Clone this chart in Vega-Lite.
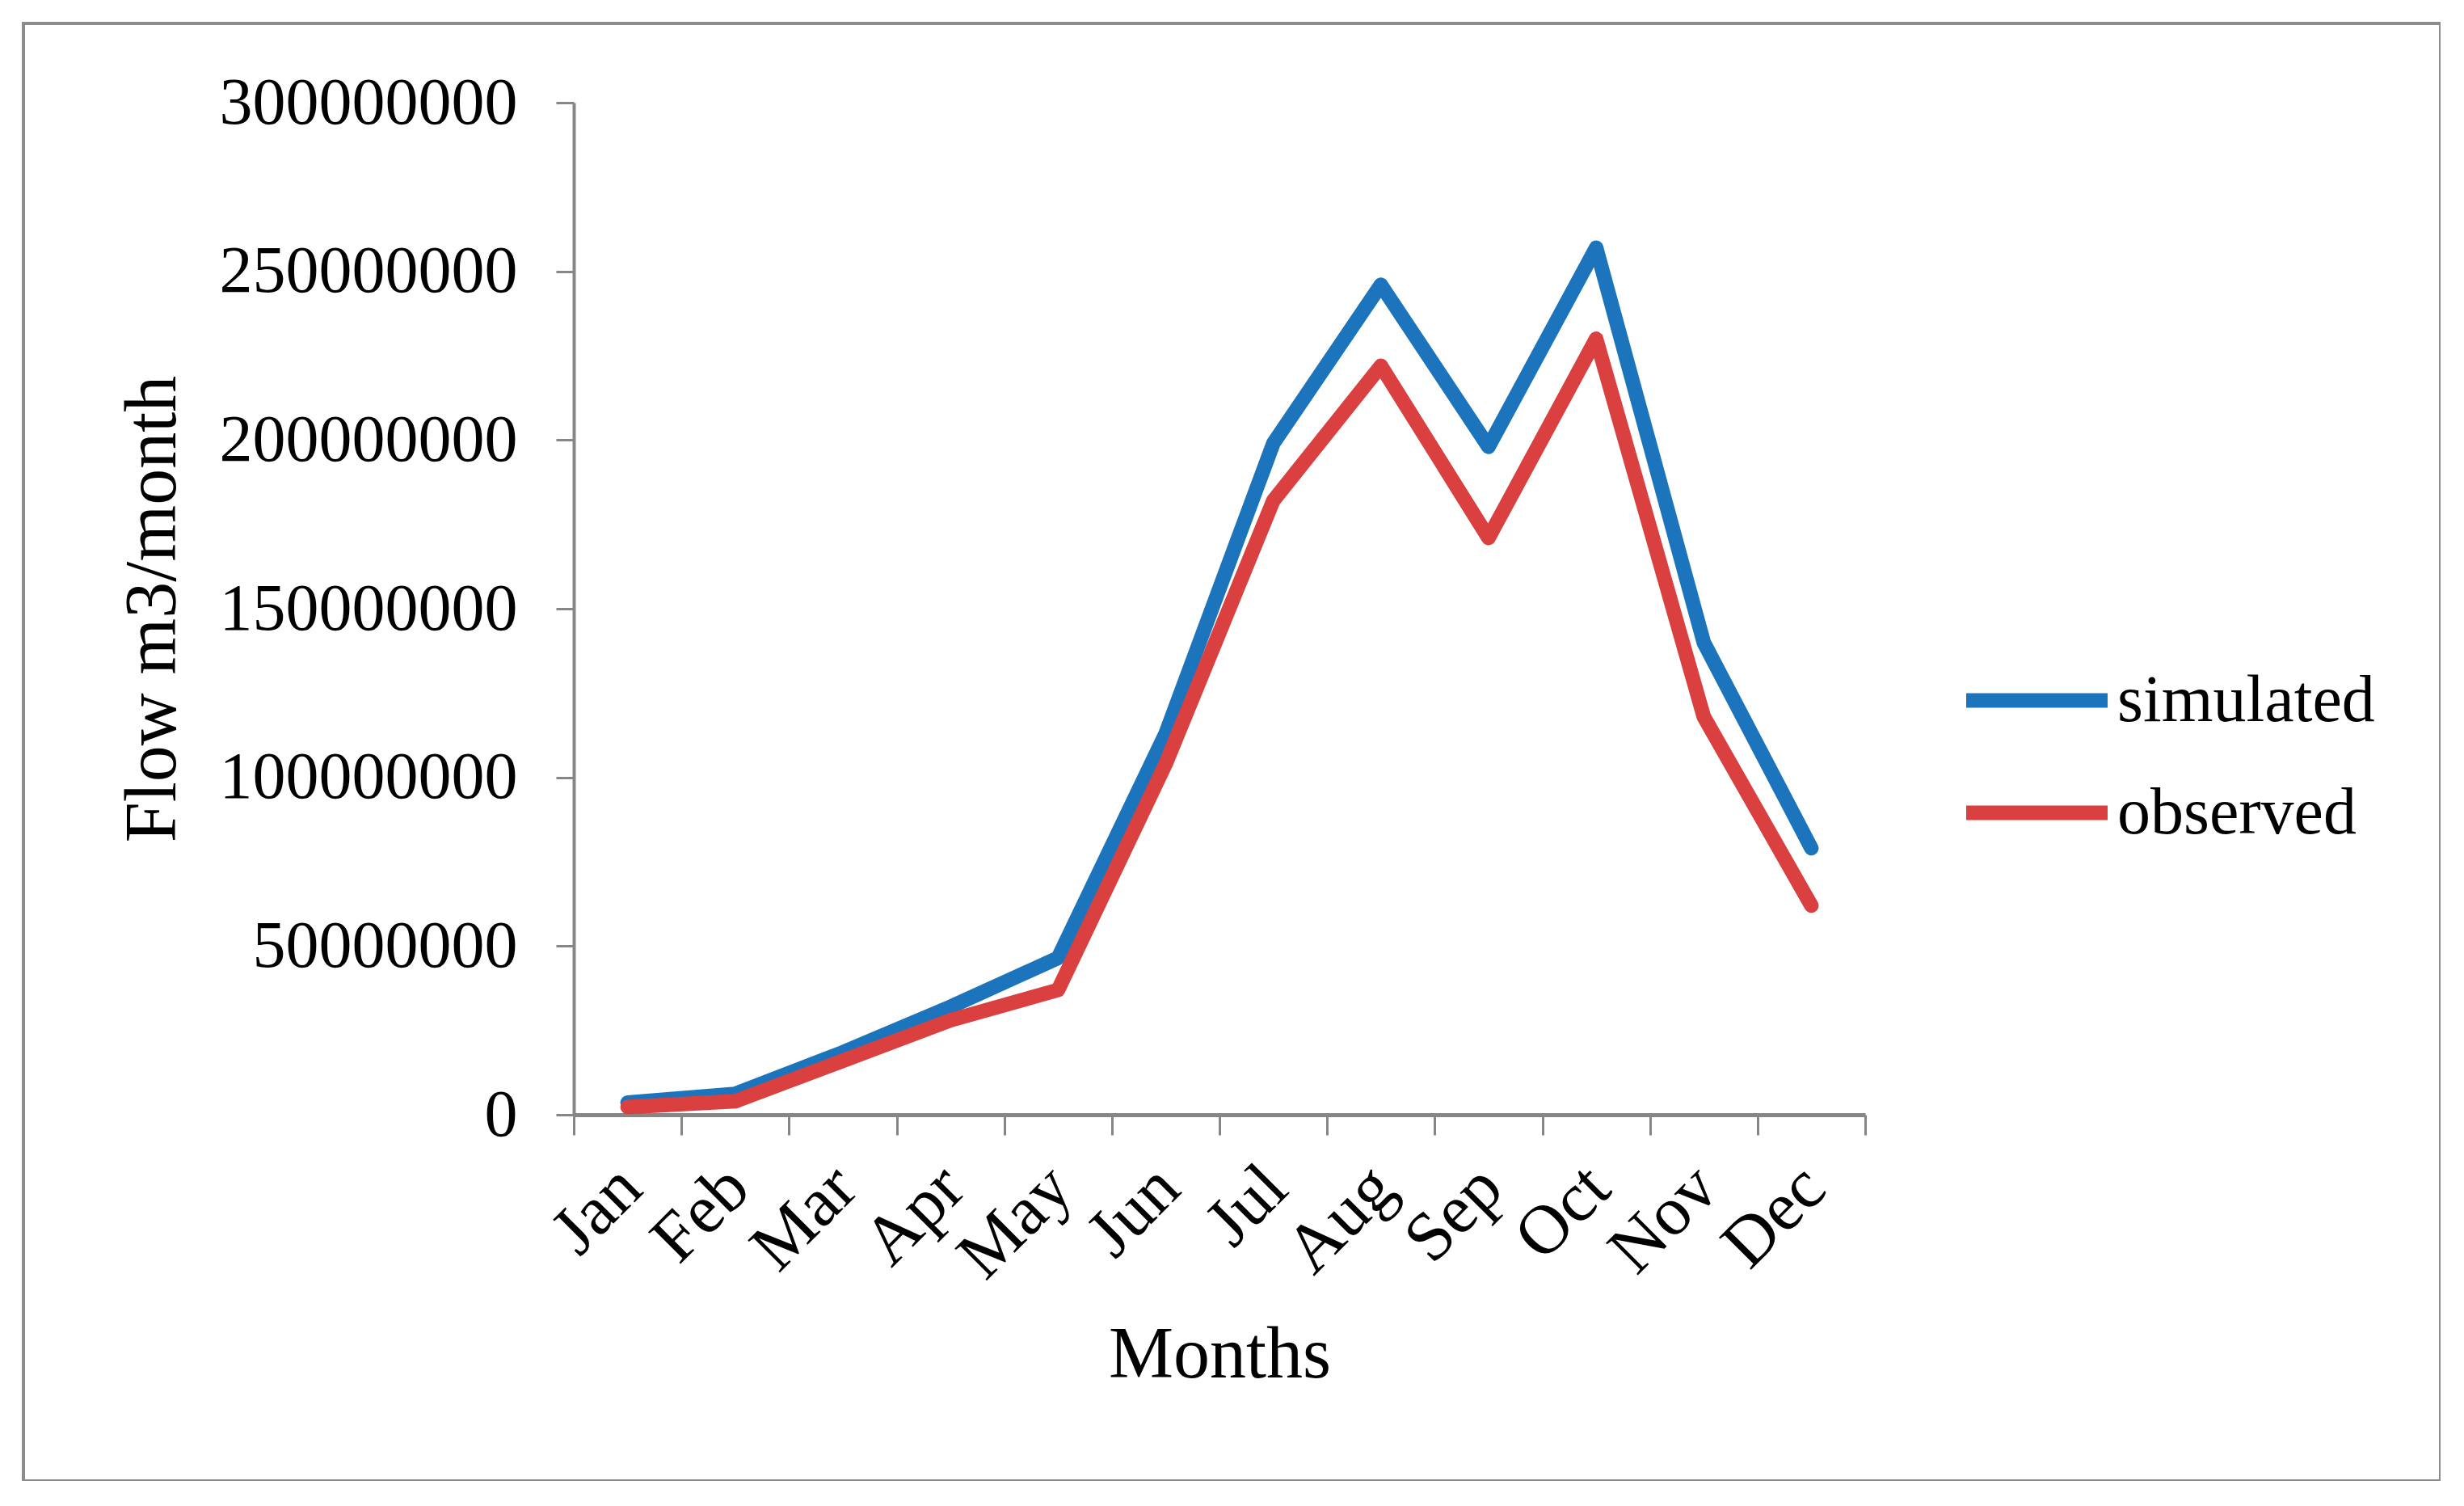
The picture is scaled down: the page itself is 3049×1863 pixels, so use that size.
{
  "$schema": "https://vega.github.io/schema/vega-lite/v6.json",
  "autosize": {"type": "none"},
  "padding": {"left": 29, "top": 29, "right": 0, "bottom": 0},
  "width": 2991,
  "height": 1803,
  "background": "white",
  "config": {
    "view": {"stroke": "#8c8c8c", "strokeWidth": 4},
    "font": "Liberation Serif"
  },
  "data": {
    "values": [
      {"month": "Jan", "series": "simulated", "flow": 3600000},
      {"month": "Feb", "series": "simulated", "flow": 6200000},
      {"month": "Mar", "series": "simulated", "flow": 18500000},
      {"month": "Apr", "series": "simulated", "flow": 32000000},
      {"month": "May", "series": "simulated", "flow": 46500000},
      {"month": "Jun", "series": "simulated", "flow": 113000000},
      {"month": "Jul", "series": "simulated", "flow": 199000000},
      {"month": "Aug", "series": "simulated", "flow": 246000000},
      {"month": "Sep", "series": "simulated", "flow": 198000000},
      {"month": "Oct", "series": "simulated", "flow": 257000000},
      {"month": "Nov", "series": "simulated", "flow": 140000000},
      {"month": "Dec", "series": "simulated", "flow": 79000000},
      {"month": "Jan", "series": "observed", "flow": 2300000},
      {"month": "Feb", "series": "observed", "flow": 4000000},
      {"month": "Mar", "series": "observed", "flow": 16000000},
      {"month": "Apr", "series": "observed", "flow": 28000000},
      {"month": "May", "series": "observed", "flow": 37000000},
      {"month": "Jun", "series": "observed", "flow": 104000000},
      {"month": "Jul", "series": "observed", "flow": 182000000},
      {"month": "Aug", "series": "observed", "flow": 222000000},
      {"month": "Sep", "series": "observed", "flow": 171000000},
      {"month": "Oct", "series": "observed", "flow": 230000000},
      {"month": "Nov", "series": "observed", "flow": 118000000},
      {"month": "Dec", "series": "observed", "flow": 62000000}
    ]
  },
  "mark": {"type": "line", "strokeWidth": 18, "strokeCap": "round", "strokeJoin": "round"},
  "encoding": {
    "x": {
      "field": "month",
      "type": "nominal",
      "sort": ["Jan", "Feb", "Mar", "Apr", "May", "Jun", "Jul", "Aug", "Sep", "Oct", "Nov", "Dec"],
      "scale": {"range": [681, 2279], "paddingInner": 0, "paddingOuter": 0},
      "axis": {
        "title": "Months",
        "offset": -453,
        "tickBand": "extent",
        "domainColor": "#868686",
        "domainWidth": 5,
        "tickColor": "#868686",
        "tickWidth": 3,
        "tickSize": 25,
        "labelAngle": -45,
        "labelFont": "Liberation Serif",
        "labelFontSize": 86,
        "labelColor": "black",
        "labelPadding": 22,
        "labelOffset": -27,
        "labelLimit": 0,
        "titleFont": "Liberation Serif",
        "titleFontSize": 90,
        "titleFontWeight": "normal",
        "titleColor": "black",
        "titlePadding": 53,
        "grid": false
      }
    },
    "y": {
      "field": "flow",
      "type": "quantitative",
      "scale": {"domain": [0, 300000000], "range": [1350, 98], "nice": false},
      "axis": {
        "title": "Flow m3/month",
        "offset": -681,
        "values": [0, 50000000, 100000000, 150000000, 200000000, 250000000, 300000000],
        "format": "d",
        "domainColor": "#868686",
        "domainWidth": 4,
        "tickColor": "#868686",
        "tickWidth": 3,
        "tickSize": 22,
        "labelFont": "Liberation Serif",
        "labelFontSize": 82,
        "labelColor": "black",
        "labelPadding": 48,
        "labelLimit": 0,
        "titleFont": "Liberation Serif",
        "titleFontSize": 90,
        "titleFontWeight": "normal",
        "titleColor": "black",
        "titleX": -521,
        "titleBaseline": "middle",
        "grid": false
      }
    },
    "color": {
      "field": "series",
      "type": "nominal",
      "scale": {"domain": ["simulated", "observed"], "range": ["#1C75BC", "#D9403F"]},
      "legend": {
        "title": null,
        "orient": "none",
        "legendX": 2395,
        "legendY": 741,
        "padding": 0,
        "symbolType": "stroke",
        "symbolSize": 30625,
        "symbolStrokeWidth": 18,
        "labelFont": "Liberation Serif",
        "labelFontSize": 82,
        "labelColor": "black",
        "labelOffset": 3,
        "labelLimit": 0,
        "rowPadding": 1
      }
    }
  }
}
